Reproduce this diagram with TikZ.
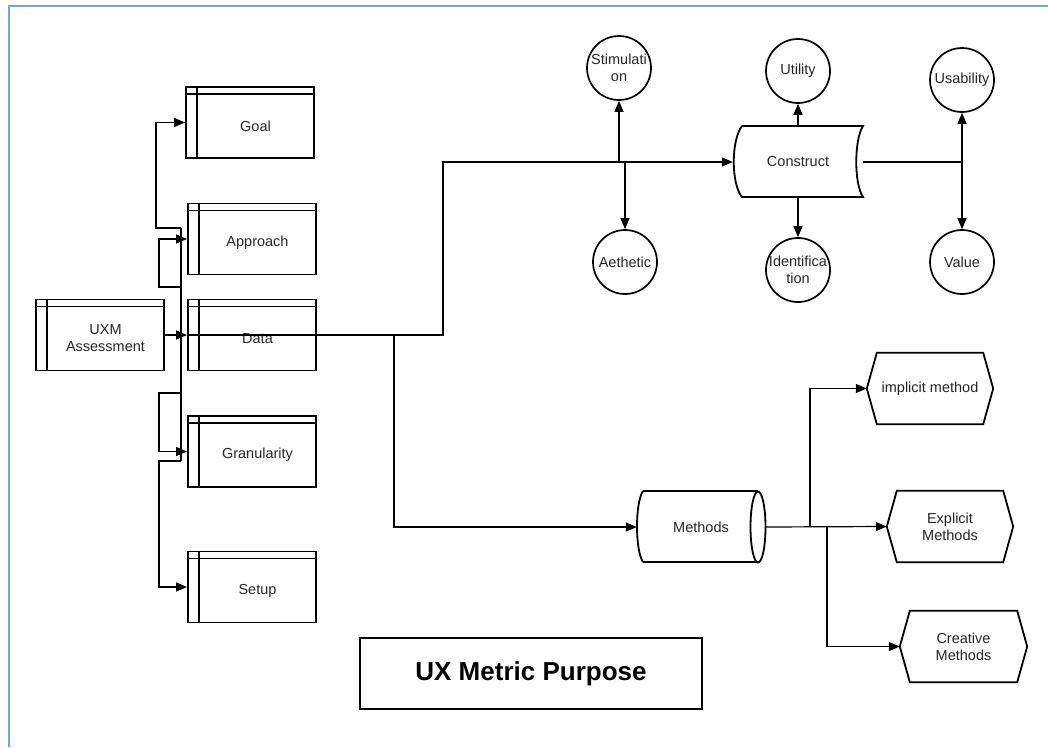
\documentclass[tikz,border=0pt]{standalone}
\usepackage{fontspec}
\setmainfont{Liberation Sans}
\usetikzlibrary{arrows.meta}
\definecolor{frameblue}{HTML}{6FA8DC}
\begin{document}
\begin{tikzpicture}[x=1pt,y=-1pt,
  every node/.style={font=\fontsize{14.5}{17}\selectfont, text=black!85},
  plain/.style={inner sep=0pt, align=center},
  storebox/.style={draw, line width=1.9pt, minimum width=128pt, minimum height=71pt, inner sep=0pt,
    label={[plain,xshift=5.5pt,yshift=-3.5pt]center:#1},
    path picture={
      \draw[line width=1.9pt] ([xshift=11pt]path picture bounding box.north west) -- ([xshift=11pt]path picture bounding box.south west);
      \draw[line width=1.9pt] ([yshift=-7pt]path picture bounding box.north west) -- ([yshift=-7pt]path picture bounding box.north east);}},
  circ/.style={draw, circle, line width=1.7pt, minimum size=64pt, inner sep=0pt, align=center},
  outline/.style={line width=1.8pt},
  conn/.style={line width=1.2pt},
  arr/.style={line width=1.2pt, -{Triangle[length=11pt,width=9pt]}},
  title/.style={draw, line width=1.9pt, minimum width=342pt, minimum height=71pt, font=\fontsize{26}{30}\selectfont\bfseries, text=black}
]
\useasboundingbox (0,0) rectangle (1048,747);
\fill[white] (0,0) rectangle (1048,747);
\draw[frameblue, line width=2.2pt] (8.7,747) -- (8.7,6) -- (1048,6);

% left boxes
\node[storebox={Goal}] (goal) at (250,122.5) {};
\node[storebox={Approach}] (approach) at (252,239) {};
\node[storebox={Data}] (data) at (252,335) {};
\node[storebox={UXM\\Assessment}] (uxm) at (100,335) {};
\node[storebox={Granularity}] (gran) at (252,451.5) {};
\node[storebox={Setup}] (setup) at (252,587) {};

% junction coordinates on the left
\coordinate (ttop) at (181,228);
\coordinate (tbot) at (181,461);
\coordinate (tg) at (156,228);
\coordinate (ta1) at (181,287);
\coordinate (ta2) at (159,287);
\coordinate (tr1) at (181,393);
\coordinate (tr2) at (159,393);
\coordinate (ts2) at (159,461);

\draw[conn] (ttop) -- (tbot);
\draw[arr] (ttop) -- (tg) |- (goal.west);
\draw[arr] (ta1) -- (ta2) |- (approach.west);
\draw[arr] (tr1) -- (tr2) |- (gran.west);
\draw[arr] (tbot) -- (ts2) |- (setup.west);
\draw[arr] (uxm.east) -- (data.west);

% upper right
\node[circ] (stim) at (619,68) {Stimulati\\on};
\node[circ] (aeth) at (625,262) {Aethetic};
\node[plain, minimum width=130pt, minimum height=71pt] (construct) at (798,162) {Construct};
\draw[outline] (742,126) -- (863,126) .. controls (854,140) and (854,184) .. (863,197)
  -- (742,197) .. controls (731,184) and (731,140) .. (742,126);
\node[circ] (util) at (798,71) {Utility};
\node[circ] (ident) at (798,270) {Identifica\\tion};
\node[circ] (usab) at (962,80) {Usability};
\node[circ] (value) at (962,262) {Value};

\coordinate (j1) at (443,335);
\coordinate (j2) at (394,335);
\coordinate (js) at (619,162);
\coordinate (ja) at (625,162);
\coordinate (ju) at (962,162);

\draw[arr] (data.west) -- (j1) |- (construct.west);
\draw[arr] (js) -- (stim.south);
\draw[arr] (ja) -- (aeth.north);
\draw[arr] (construct.north) -- (util.south);
\draw[arr] (construct.south) -- (ident.north);
\draw[conn] (construct.east) -- (ju);
\draw[arr] (ju) -- (usab.south);
\draw[arr] (ju) -- (value.north);

% methods
\node[plain, minimum width=128pt, minimum height=71pt] (methods) at (701,527) {Methods};
\draw[outline] (643,491) -- (758,491);
\draw[outline] (643,562) -- (758,562);
\draw[outline] (643,491) .. controls (635,503) and (635,550) .. (643,562);
\draw[outline] (758,527) ellipse [x radius=7.5, y radius=35.5];

\node[plain, minimum width=126pt, minimum height=71pt] (impl) at (930,388.5) {implicit method};
\node[plain, minimum width=126pt, minimum height=71pt] (expl) at (950,526.5) {Explicit\\Methods};
\node[plain, minimum width=127pt, minimum height=71pt] (creat) at (963.5,646.5) {Creative\\Methods};
\foreach \n in {impl,expl,creat}{
  \draw[outline] (\n.west) -- ([xshift=10pt]\n.north west) -- ([xshift=-10pt]\n.north east)
    -- (\n.east) -- ([xshift=-10pt]\n.south east) -- ([xshift=10pt]\n.south west) -- cycle;
}

\coordinate (m1) at (810,527);
\coordinate (m2) at (827,527);
\draw[arr] (j2) |- (methods.west);
\draw[arr] (methods.east) -- (expl.west);
\draw[arr] (m1) |- (impl.west);
\draw[arr] (m2) |- (creat.west);

% title
\node[title] (ttl) at (531,673.5) {UX Metric Purpose};
\end{tikzpicture}
\end{document}
